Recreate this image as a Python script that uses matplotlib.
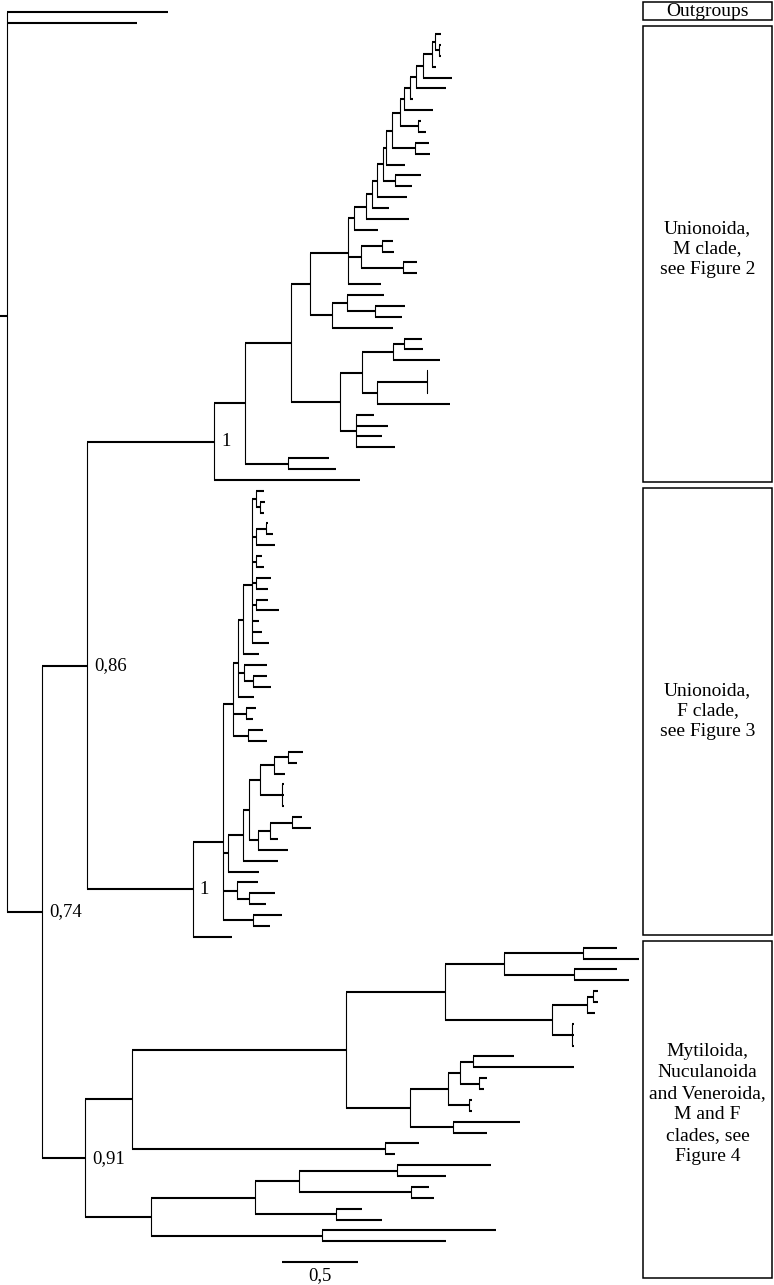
import numpy as np
import matplotlib
matplotlib.use("Agg")
import matplotlib.pyplot as plt
from matplotlib.collections import LineCollection
from matplotlib.patches import Rectangle

plt.rcParams['font.family'] = ['Liberation Serif', 'DejaVu Serif']

# ---- tree data: branch lengths (subst./site), support values as node labels ----
outgroup_lengths = [1.068, 0.863]

# Unionoida M clade, upper comb written from the deepest node outwards
m_crown = "(:0.040,(:0.013,:0.013):0.027):0.020"
m_comb_sisters = [":0.027", ":0.192", ":0.199", ":0.020", ":0.192",
                  "(:0.020,:0.053):0.119", "(:0.093,:0.100):0.153", ":0.126",
                  "(:0.173,:0.113):0.080", ":0.199", ":0.113", ":0.285", ":0.159"]
m_comb_stems = [0.060, 0.046, 0.040, 0.040, 0.027, 0.053, 0.040, 0.020,
                0.040, 0.033, 0.040, 0.080, 0.040]

m_comb = m_crown
for sister, stem in zip(m_comb_sisters, m_comb_stems):
    m_comb = f"({m_comb},{sister}):{stem}"

m_clade = (f"((((({m_comb},((:0.073,:0.080):0.139,(:0.093,:0.093):0.279):0.086,:0.219):0.252,"
           "((:0.246,(:0.199,:0.179):0.186):0.100,:0.405):0.146):0.126,"
           "((((:0.119,:0.126):0.073,:0.312):0.206,((:0.008,:0.008,:0.008):0.332,:0.484):0.100):0.146,"
           "(:0.119,:0.212,:0.173,:0.259):0.106):0.325):0.305,"
           "(:0.272,:0.319):0.285):0.206,:0.969)1:0.843")

# Unionoida F clade
f_poly = ("((:0.050,(:0.033,:0.025):0.022):0.033,((:0.015,:0.048):0.062,:0.126):0.033,"
          "(:0.042,:0.057):0.027,(:0.102,:0.084):0.027,(:0.080,:0.155):0.027,"
          ":0.050,:0.070,:0.115):0.056")
f_clade = (f"((((({f_poly},:0.106):0.033,(:0.153,(:0.097,:0.122):0.056):0.040,:0.104):0.033,"
           "(:0.066,:0.048):0.084,(:0.096,:0.122):0.100):0.068,"
           "((((((:0.100,:0.060):0.093,:0.073):0.093,(:0.012,:0.012,:0.012):0.146):0.073,"
           "(((:0.066,:0.126):0.146,:0.053):0.080,:0.199):0.060):0.040,:0.232):0.100,:0.206):0.033,"
           "(:0.139,(:0.173,:0.113):0.080):0.093,(:0.192,:0.113):0.199):0.199,:0.259)1:0.703")

# Mytiloida, Nuculanoida and Veneroida
b_clade = ("((((((:0.226,:0.372):0.524,(:0.285,:0.365):0.465):0.392,"
           "(((:0.033,:0.033):0.040,:0.053):0.232,(:0.012,:0.012,:0.012):0.133):0.710):0.657,"
           "((((:0.272,:0.670):0.086,(:0.053,:0.033):0.126):0.080,(:0.020,:0.020):0.139):0.252,"
           "(:0.445,:0.226):0.285):0.425):1.420,(:0.226,:0.066):1.679):0.312,"
           "((((:0.624,:0.325):0.650,(:0.119,:0.153):0.743):0.292,(:0.173,:0.305):0.537):0.690,"
           "(:1.155,:0.823):1.135):0.438)0.91:0.285")

tree_newick = (f"(:{outgroup_lengths[0]},:{outgroup_lengths[1]},"
               f"(({m_clade},{f_clade})0.86:0.299,{b_clade})0.74:0.232):0.046;")

box_labels = ["Outgroups",
              "Unionoida,\nM clade,\nsee Figure 2",
              "Unionoida,\nF clade,\nsee Figure 3",
              "Mytiloida,\nNuculanoida\nand Veneroida,\nM and F\nclades, see\nFigure 4"]
scale_bar_length = 0.5

# ---- layout (pixels of the 774x1285 picture) ----
px_per_unit = 150.7
leaf_step = 10.876
first_leaf_px = 12.3
box_x = (643, 772)
box_edges = [(2, 20), (26, 482), (488, 935), (941, 1278)]
box_text_y = [11, 249, 711, 1104]
scale_bar_pos = (282.3, 1262)


def parse_newick(s):
    pos = 0

    def node():
        nonlocal pos
        kids = []
        if s[pos] == '(':
            pos += 1
            kids.append(node())
            while s[pos] == ',':
                pos += 1
                kids.append(node())
            pos += 1
        start = pos
        while s[pos] not in ':,);':
            pos += 1
        label = s[start:pos]
        length = 0.0
        if s[pos] == ':':
            pos += 1
            start = pos
            while s[pos] not in ',);':
                pos += 1
            length = float(s[start:pos])
        return {'kids': kids, 'label': label, 'len': length}

    return node()


root = parse_newick(tree_newick)
n_leaves = [0]


def layout(n, x0):
    n['x0'] = x0
    n['x'] = x0 + n['len']
    if not n['kids']:
        n['y'] = n_leaves[0]
        n_leaves[0] += 1
    else:
        for k in n['kids']:
            layout(k, n['x'])
        n['y'] = np.mean([k['y'] for k in n['kids']])


layout(root, 0.0)

hsegs, vsegs, labels = [], [], []


def collect(n):
    hsegs.append([(n['x0'], n['y']), (n['x'], n['y'])])
    if n['kids']:
        ys = [k['y'] for k in n['kids']]
        vsegs.append([(n['x'], min(ys)), (n['x'], max(ys))])
        if n['label']:
            labels.append((n['x'], n['y'], n['label'].replace('.', ',')))
        for k in n['kids']:
            collect(k)


collect(root)

W, H = 774, 1285
fig = plt.figure(figsize=(W / 100, H / 100), dpi=100)
ax = fig.add_axes([0, 0, 1, 1])
ax.set_xlim(0, W / px_per_unit)
ax.set_ylim((H - first_leaf_px) / leaf_step, -first_leaf_px / leaf_step)
ax.axis('off')

ax.add_collection(LineCollection(vsegs, colors='black', linewidths=0.8, capstyle='butt'))
ax.add_collection(LineCollection(hsegs, colors='black', linewidths=1.5, capstyle='butt'))

for x, y, t in labels:
    ax.annotate(t, (x, y), xytext=(5, 0), textcoords='offset points',
                ha='left', va='center', fontsize=13.5)

# scale bar
sx = scale_bar_pos[0] / px_per_unit
sy = (scale_bar_pos[1] - first_leaf_px) / leaf_step
ax.plot([sx, sx + scale_bar_length], [sy, sy], color='black', lw=1.5, solid_capstyle='butt')
ax.text(sx + scale_bar_length / 2, sy + 1.25, str(scale_bar_length).replace('.', ','),
        ha='center', va='center', fontsize=13.5)

# clade boxes on the right, in pixel coordinates
ov = fig.add_axes([0, 0, 1, 1])
ov.set_xlim(0, W)
ov.set_ylim(H, 0)
ov.axis('off')
ov.patch.set_alpha(0)
for lab, (top, bot), ty in zip(box_labels, box_edges, box_text_y):
    ov.add_patch(Rectangle((box_x[0], top), box_x[1] - box_x[0], bot - top,
                           fill=False, edgecolor='black', lw=1.1))
    ov.text((box_x[0] + box_x[1]) / 2, ty, lab, ha='center', va='center',
            fontsize=14, linespacing=1.3)

fig.savefig("out.png", dpi=100)
